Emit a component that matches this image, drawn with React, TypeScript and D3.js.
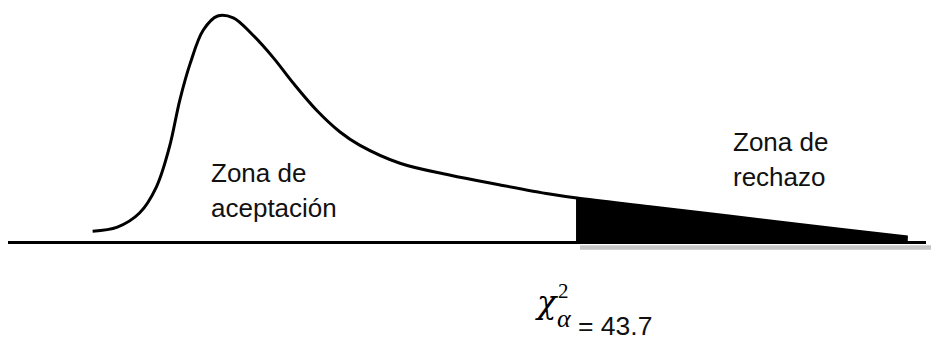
import React from "react";
import * as d3 from "d3";

// chi-square density sketch (x in chi units, y in density units)
const curveX = [6.5, 8.4, 10.1, 11.4, 12.4, 13.2, 14.0, 15.0, 16.1, 17.3, 18.8, 20.4, 21.9, 23.7, 25.5, 27.0, 30.1, 33.9, 37.8, 41.6, 43.7, 49.3, 55.2, 60.8, 69.1];
const curveY = [0.0025, 0.0034, 0.0065, 0.0123, 0.0211, 0.0315, 0.0396, 0.0469, 0.05, 0.0496, 0.0458, 0.0407, 0.0352, 0.0292, 0.0244, 0.0215, 0.0175, 0.0149, 0.0127, 0.0107, 0.0098, 0.0079, 0.0059, 0.004, 0.0012];

const criticalValue = 43.7;
const axisDomain = [0, 70.5];
const acceptLabel = ["Zona de", "aceptación"];
const rejectLabel = ["Zona de", "rechazo"];

const W = 931;
const H = 340;
const font = "'Liberation Sans', Arial, Helvetica, sans-serif";
const serif = "'DejaVu Serif', 'Liberation Serif', serif";

export default function App() {
  const points = curveX.map((x, i) => ({ x, y: curveY[i] }));

  const xScale = d3.scaleLinear().domain(axisDomain).range([8, 926]);
  const yScale = d3.scaleLinear().domain([0, 0.05]).range([242.5, 16]);

  const line = d3
    .line<{ x: number; y: number }>()
    .x((d) => xScale(d.x))
    .y((d) => yScale(d.y))
    .curve(d3.curveCatmullRom);

  const tail = points.filter((d) => d.x >= criticalValue);
  const area = d3
    .area<{ x: number; y: number }>()
    .x((d) => xScale(d.x))
    .y0(yScale(0))
    .y1((d) => yScale(d.y))
    .curve(d3.curveCatmullRom);

  const xc = xScale(criticalValue);
  const xEnd = xScale(axisDomain[1]);

  return (
    <svg
      width={W}
      height={H}
      style={{ position: "absolute", left: 0, top: 0, background: "#fff" }}
    >
      {/* shadow under rejection zone */}
      <line x1={xc + 3} x2={xEnd + 5} y1={yScale(0) + 5} y2={yScale(0) + 5} stroke="#c6c6c6" strokeWidth={4.5} />
      {/* baseline */}
      <line x1={xScale(axisDomain[0])} x2={xEnd} y1={yScale(0)} y2={yScale(0)} stroke="#000" strokeWidth={3} />
      {/* rejection area */}
      <path d={area(tail) || ""} fill="#000" />
      <line x1={xc} x2={xc} y1={yScale(0)} y2={yScale(tail[0].y)} stroke="#000" strokeWidth={2} />
      {/* density curve */}
      <path d={line(points) || ""} fill="none" stroke="#000" strokeWidth={3} />

      <text fontFamily={font} fontSize={26} fill="#111">
        <tspan x={211} y={182}>{acceptLabel[0]}</tspan>
        <tspan x={211} y={217}>{acceptLabel[1]}</tspan>
      </text>
      <text fontFamily={font} fontSize={26} fill="#111">
        <tspan x={733} y={151}>{rejectLabel[0]}</tspan>
        <tspan x={733} y={186}>{rejectLabel[1]}</tspan>
      </text>

      {/* critical value label */}
      <text x={xc - 40} y={313} fontFamily={serif} fontStyle="italic" fontSize={32} fill="#000">χ</text>
      <text x={xc - 19} y={298} fontFamily="'Liberation Serif', serif" fontSize={21} fill="#000">2</text>
      <text x={xc - 20} y={327} fontFamily="'Liberation Serif', serif" fontStyle="italic" fontSize={26} fill="#000">α</text>
      <text x={xc + 1} y={335} fontFamily={font} fontSize={26.5} fill="#111">
        {"= " + criticalValue.toFixed(1)}
      </text>
    </svg>
  );
}
